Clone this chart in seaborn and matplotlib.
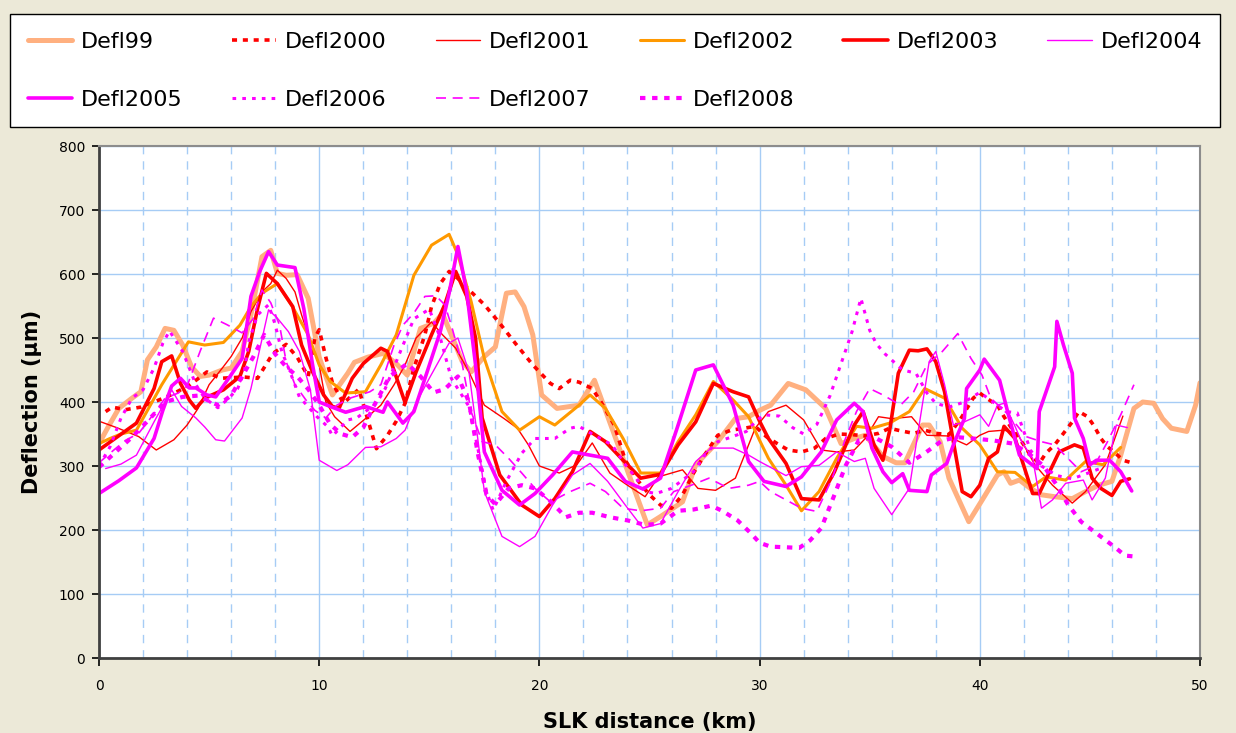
import matplotlib
matplotlib.use("Agg")
import matplotlib.pyplot as plt
import seaborn as sns
import pandas as pd

# ---------------- data (km, deflection in micrometres) ----------------
km_99 = [0.0, 0.4, 0.9, 1.5, 1.9, 2.2, 2.6, 3.0, 3.4, 3.8, 4.2, 4.6, 5.0, 5.6, 6.0, 6.5, 6.9, 7.4, 7.8, 8.1,
         8.5, 9.0, 9.5, 10.0, 10.6, 11.3, 11.6, 12.2, 12.9, 13.5, 14.0, 14.6, 15.2, 15.6, 16.0, 16.5, 16.9,
         17.5, 18.0, 18.2, 18.5, 18.9, 19.3, 19.7, 20.1, 20.8, 21.8, 22.5, 24.9, 25.5, 26.5, 27.1, 28.1,
         28.9, 29.5, 30.0, 30.5, 31.3, 32.1, 33.0, 33.7, 34.3, 34.8, 35.6, 36.2, 36.6, 37.4, 37.7, 38.2,
         38.6, 39.5, 40.2, 40.8, 41.1, 41.4, 41.8, 42.3, 42.8, 43.4, 44.2, 44.8, 45.4, 46.0, 46.4, 47.0,
         47.4, 47.9, 48.3, 48.7, 49.4, 49.8, 50.0]
defl_99 = [335, 360, 390, 406, 416, 466, 486, 515, 512, 489, 455, 440, 442, 450, 453, 479, 536, 627, 637, 601,
           598, 599, 562, 470, 411, 445, 462, 470, 476, 460, 442, 515, 523, 538, 505, 463, 447,
           471, 486, 520, 570, 572, 549, 505, 411, 390, 395, 434, 208, 221, 244, 302, 338,
           374, 377, 387, 395, 429, 419, 390, 335, 343, 348, 315, 305, 305, 364, 364, 338,
           281, 213, 252, 286, 291, 273, 278, 265, 255, 252, 249, 260, 270, 276, 317, 390,
           400, 398, 374, 359, 354, 395, 430]

km_2000 = [0.3, 0.6, 1.2, 1.9, 2.5, 3.2, 4.1, 4.9, 5.5, 6.0, 6.6, 7.2, 7.9, 8.5, 9.0, 9.5, 9.8, 10.0, 10.3,
           10.6, 11.1, 11.8, 12.4, 12.6, 13.1, 13.5, 13.9, 14.3, 14.8, 15.1, 15.5, 15.9, 16.3, 16.9, 17.5,
           18.2, 18.9, 19.7, 20.5, 20.9, 21.4, 21.8, 22.4, 22.8, 23.4, 23.9, 24.5, 25.0, 25.5, 26.0, 26.5,
           27.0, 27.5, 28.1, 28.7, 29.3, 29.8, 30.3, 30.8, 31.3, 31.9, 32.5, 33.0, 33.6, 34.2, 34.8, 35.4,
           35.9, 36.4, 37.0, 37.5, 38.0, 38.6, 39.1, 39.7, 40.0, 40.3, 40.8, 41.1, 41.5, 41.9, 42.3, 42.7,
           43.0, 43.4, 43.8, 44.2, 44.5, 44.9, 45.2, 45.5, 45.8, 46.1, 46.5, 46.8]
defl_2000 = [385, 392, 388, 392, 400, 410, 426, 447, 437, 438, 439, 437, 476, 490, 470, 440, 500, 513, 470,
             430, 398, 420, 350, 327, 348, 370, 398, 453, 505, 549, 585, 604, 593, 572, 552,
             523, 492, 458, 429, 421, 434, 431, 421, 400, 364, 309, 276, 255, 239, 234, 255,
             289, 317, 348, 356, 359, 362, 346, 335, 325, 322, 328, 343, 350, 349, 347, 351,
             359, 355, 351, 356, 351, 349, 372, 406, 414, 406, 395, 377, 356, 338, 317, 304,
             320, 333, 351, 369, 385, 377, 362, 343, 330, 322, 309, 306]

km_2001 = [0.0, 0.8, 1.8, 2.6, 3.4, 4.0, 4.5, 5.0, 5.6, 6.0, 6.5, 6.9, 7.4, 7.8, 8.1, 8.5, 8.9, 9.2, 9.6,
           10.0, 10.3, 10.7, 11.4, 12.1, 12.8, 13.4, 13.9, 14.4, 15.1, 15.6, 16.2, 16.8, 17.5, 18.4, 19.0,
           19.5, 20.0, 20.9, 21.7, 22.4, 23.2, 24.0, 24.8, 25.4, 26.5, 27.2, 28.0, 28.9, 29.8, 30.4, 31.2,
           32.0, 32.8, 33.5, 34.3, 34.8, 35.4, 36.0, 36.9, 37.6, 38.5, 39.4, 40.0, 40.4, 41.1, 41.7, 42.5,
           43.3, 44.2, 44.8, 45.7, 46.5]
defl_2001 = [370, 360, 346, 325, 341, 364, 390, 427, 453, 471, 500, 541, 572, 585, 606, 593, 572, 536, 494,
             458, 400, 377, 354, 374, 395, 427, 458, 500, 525, 505, 484, 447, 395, 374, 359,
             333, 300, 289, 302, 336, 289, 270, 252, 283, 294, 265, 262, 281, 359, 385, 395,
             372, 325, 322, 325, 343, 377, 374, 377, 348, 347, 333, 348, 354, 356, 351, 302,
             270, 242, 260, 302, 378]

km_2002 = [0.0, 0.5, 1.0, 1.7, 2.85, 4.06, 4.8, 5.65, 6.4, 6.9, 7.4, 8.1, 8.75, 9.5, 10.0, 10.5, 11.2,
           12.1, 12.8, 13.5, 14.3, 15.1, 15.9, 16.3, 16.9, 17.5, 18.3, 19.1, 20.0, 20.7, 21.8, 22.3, 23.0,
           23.8, 24.6, 25.5, 26.3, 27.1, 27.9, 28.8, 29.5, 30.0, 30.4, 31.2, 31.9, 32.7, 33.5, 34.4, 35.1,
           35.9, 36.8, 37.5, 38.4, 39.2, 40.0, 40.8, 41.6, 42.4, 43.0, 43.9, 44.8, 45.6, 46.4]
defl_2002 = [335, 343, 350, 356, 427, 494, 489, 493, 520, 549, 570, 585, 551, 505, 458, 432, 414,
             416, 458, 505, 598, 645, 662, 630, 557, 468, 385, 356, 377, 364, 395, 411, 390,
             343, 289, 289, 338, 380, 432, 403, 377, 340, 312, 270, 230, 260, 312, 362, 359,
             367, 385, 421, 406, 359, 333, 291, 290, 268, 283, 278, 307, 302, 329]

km_2003 = [0.0, 1.7, 2.5, 2.85, 3.3, 3.7, 4.1, 4.4, 4.8, 5.65, 6.4, 6.8, 7.2, 7.6, 8.1, 8.8, 9.2, 9.7,
           10.2, 10.6, 10.9, 11.5, 12.0, 12.8, 13.1, 13.9, 14.4, 15.1, 15.7, 16.2, 16.7, 17.1, 17.4, 18.2,
           19.2, 20.0, 20.7, 21.5, 22.3, 23.0, 23.8, 24.6, 25.5, 26.3, 27.1, 27.9, 28.8, 29.5, 30.0, 30.4,
           31.2, 31.9, 32.7, 33.4, 34.3, 34.7, 35.2, 35.6, 35.9, 36.3, 36.8, 37.2, 37.6, 38.0, 38.4, 38.8,
           39.2, 39.6, 40.0, 40.4, 40.8, 41.1, 41.6, 42.4, 42.7, 43.1, 43.6, 44.3, 44.7, 45.1, 45.5, 46.0,
           46.4, 46.8]
defl_2003 = [325, 367, 421, 463, 472, 429, 403, 390, 406, 419, 440, 479, 546, 601, 585, 549, 489, 447,
             411, 393, 390, 437, 460, 484, 479, 399, 447, 505, 552, 604, 565, 500, 375, 286,
             239, 221, 249, 291, 354, 338, 309, 281, 287, 333, 369, 429, 416, 408, 370, 343,
             304, 249, 247, 291, 364, 385, 333, 309, 354, 445, 481, 480, 483, 463, 416, 338,
             260, 252, 270, 312, 322, 362, 343, 257, 257, 286, 322, 333, 328, 281, 265, 254,
             276, 280]

km_2004 = [0.3, 1.0, 1.7, 2.5, 3.3, 3.75, 4.4, 4.8, 5.3, 5.7, 6.5, 6.9, 7.7, 8.1, 8.6, 9.1, 9.6, 10.0,
           10.8, 11.3, 12.1, 12.8, 13.5, 13.9, 14.4, 15.0, 15.5, 15.9, 16.3, 16.8, 17.2, 17.5, 18.3, 19.1,
           19.8, 20.6, 21.5, 22.3, 23.1, 23.9, 24.7, 25.5, 26.3, 27.1, 27.8, 28.8, 29.5, 30.0, 31.2, 31.9,
           32.7, 33.5, 34.3, 34.8, 35.2, 36.0, 36.8, 37.2, 37.7, 38.0, 38.4, 38.8, 39.3, 40.0, 40.4, 40.8,
           41.1, 41.6, 41.9, 42.4, 42.8, 43.3, 43.9, 44.7, 45.1, 45.7, 46.2, 46.7]
defl_2004 = [296, 303, 317, 369, 419, 393, 375, 361, 341, 339, 375, 421, 544, 531, 510, 479, 419, 309,
             293, 302, 329, 330, 343, 356, 398, 437, 468, 492, 500, 447, 343, 260, 190, 174,
             190, 239, 286, 304, 276, 239, 203, 210, 260, 307, 328, 328, 317, 307, 285, 299,
             301, 322, 307, 312, 265, 224, 265, 354, 463, 479, 427, 364, 369, 380, 362, 395,
             398, 362, 338, 312, 234, 247, 273, 278, 247, 281, 364, 360]

km_2005 = [0.0, 0.9, 1.7, 2.5, 2.9, 3.3, 3.7, 4.1, 4.4, 4.9, 5.3, 5.95, 6.5, 6.9, 7.3, 7.7, 8.1, 8.9, 9.3,
           9.7, 10.0, 10.5, 11.2, 12.1, 12.9, 13.1, 13.8, 14.3, 14.9, 15.5, 15.9, 16.3, 16.7, 17.1, 17.5,
           18.3, 19.1, 19.8, 20.6, 21.5, 22.3, 23.1, 23.9, 24.7, 25.5, 26.3, 27.1, 27.9, 28.8, 29.5, 30.2,
           31.2, 31.9, 32.8, 33.5, 34.3, 34.7, 35.1, 35.6, 36.0, 36.5, 36.8, 37.6, 37.8, 38.5, 38.8, 39.3,
           39.4, 40.0, 40.2, 40.9, 41.3, 41.8, 42.6, 42.7, 43.4, 43.5, 43.8, 44.2, 44.3, 44.7, 45.0, 45.3,
           45.9, 46.4, 46.9]
defl_2005 = [257, 277, 297, 343, 387, 425, 437, 422, 422, 411, 408, 440, 468, 565, 604, 635, 614, 610, 546,
             458, 400, 393, 384, 393, 384, 400, 367, 385, 447, 510, 570, 643, 572, 458, 322,
             262, 239, 257, 286, 322, 317, 312, 276, 264, 281, 364, 450, 458, 395, 307, 276,
             268, 283, 322, 372, 398, 385, 328, 291, 274, 288, 262, 260, 286, 304, 333, 374,
             421, 450, 467, 434, 380, 317, 296, 385, 455, 526, 489, 445, 375, 343, 302, 309,
             309, 291, 261]

km_2006 = [0.0, 0.5, 1.0, 1.5, 2.0, 2.5, 2.9, 3.2, 3.8, 4.4, 4.8, 5.4, 5.9, 6.3, 6.6, 6.8, 7.2, 7.7, 8.0,
           8.3, 8.7, 9.1, 9.9, 10.4, 10.6, 11.3, 11.7, 12.6, 13.0, 13.7, 14.3, 15.0, 15.5, 16.0, 16.8,
           17.2, 17.6, 17.9, 18.5, 19.2, 19.8, 20.7, 21.4, 21.8, 22.5, 23.3, 23.9, 24.4, 24.8, 25.3, 26.0,
           27.0, 27.5, 28.1, 28.7, 29.4, 29.8, 30.2, 30.9, 31.5, 32.0, 32.6, 33.2, 33.7, 34.2, 34.6, 35.0,
           35.3, 35.7, 36.5, 37.1, 37.6, 38.0, 38.6, 39.3, 40.0, 40.6, 41.2, 41.7, 42.3, 42.8, 43.5, 44.2,
           45.0, 45.6]
defl_2006 = [300, 330, 375, 406, 419, 453, 492, 511, 479, 427, 406, 391, 406, 421, 447, 494, 536, 552, 521,
             479, 445, 408, 377, 361, 347, 372, 375, 398, 421, 480, 530, 545, 500, 437, 393,
             328, 260, 231, 276, 320, 343, 343, 359, 362, 348, 333, 302, 281, 260, 257, 265,
             291, 317, 338, 345, 354, 369, 380, 378, 360, 350, 365, 410, 460, 510, 562, 512,
             491, 475, 450, 445, 414, 398, 392, 400, 415, 400, 385, 383, 325, 300, 285, 280,
             290, 298]

km_2007 = [0.0, 0.5, 1.2, 1.8, 2.5, 3.0, 3.6, 4.0, 4.6, 5.2, 5.8, 6.5, 7.0, 7.4, 7.8, 8.2, 8.5, 8.9, 9.4,
           9.8, 10.3, 10.8, 11.4, 12.3, 12.8, 13.4, 13.8, 14.3, 14.8, 15.3, 15.7, 16.0, 16.5, 16.9, 17.4,
           18.0, 18.6, 19.2, 19.8, 20.5, 21.4, 22.3, 23.0, 23.8, 24.6, 25.5, 26.1, 26.9, 27.7, 28.6, 29.5,
           30.0, 30.5, 31.2, 31.9, 32.6, 33.3, 33.9, 34.4, 35.0, 35.6, 36.4, 37.0, 37.6, 38.3, 39.0, 39.6,
           40.1, 40.5, 41.3, 42.1, 42.8, 43.4, 44.0, 44.6, 45.2, 45.8, 46.4, 47.0]
defl_2007 = [305, 320, 340, 351, 382, 406, 414, 425, 480, 531, 521, 508, 530, 575, 555, 520, 463, 427, 403,
             387, 375, 395, 406, 416, 427, 489, 520, 539, 565, 566, 552, 520, 458, 385, 338,
             333, 312, 289, 265, 244, 260, 273, 260, 234, 230, 234, 260, 270, 281, 265, 270,
             276, 260, 247, 234, 229, 281, 343, 385, 421, 411, 395, 416, 458, 479, 507, 468,
             442, 406, 380, 346, 338, 333, 312, 291, 300, 338, 380, 427]

km_2008 = [0.0, 0.7, 1.5, 2.2, 3.0, 3.8, 4.5, 5.4, 6.0, 6.5, 7.0, 7.5, 8.0, 8.5, 9.0, 9.5, 10.0, 10.5,
           11.0, 11.5, 12.0, 12.5, 13.2, 14.0, 14.6, 15.2, 15.7, 16.3, 16.8, 17.2, 17.6, 18.0, 18.6, 19.2,
           19.8, 20.5, 21.2, 21.8, 22.4, 23.2, 24.0, 24.8, 25.5, 26.3, 27.0, 27.8, 28.3, 29.0, 29.6, 30.0,
           30.5, 31.2, 31.8, 32.3, 32.8, 33.4, 33.9, 34.5, 35.2, 36.0, 36.8, 37.5, 38.3, 39.0, 40.0, 40.6,
           41.5, 42.2, 42.9, 43.5, 44.0, 44.6, 45.1, 45.6, 46.1, 46.6, 47.2]
defl_2008 = [298, 320, 345, 370, 400, 408, 410, 395, 410, 440, 470, 505, 475, 455, 440, 420, 395, 365,
             350, 345, 360, 395, 440, 460, 440, 415, 420, 440, 400, 320, 255, 240, 265, 270,
             265, 245, 220, 227, 227, 220, 215, 208, 210, 230, 232, 238, 230, 215, 195, 180,
             174, 173, 172, 184, 203, 255, 300, 340, 345, 330, 305, 320, 340, 345, 342, 340,
             335, 320, 300, 270, 240, 213, 200, 187, 174, 160, 158]

series_names = ["Defl99", "Defl2000", "Defl2001", "Defl2002", "Defl2003",
                "Defl2004", "Defl2005", "Defl2006", "Defl2007", "Defl2008"]
series_km = [km_99, km_2000, km_2001, km_2002, km_2003, km_2004, km_2005, km_2006, km_2007, km_2008]
series_val = [defl_99, defl_2000, defl_2001, defl_2002, defl_2003,
              defl_2004, defl_2005, defl_2006, defl_2007, defl_2008]

x_ticks = [0, 10, 20, 30, 40, 50]
y_ticks = [0, 100, 200, 300, 400, 500, 600, 700, 800]

# ---------------- styles ----------------
styles = {
    "Defl99":   dict(color="#FFB080", lw=3.6, ls="-"),
    "Defl2000": dict(color="#FF0000", lw=2.6, ls=(0, (1.4, 1.6))),
    "Defl2001": dict(color="#FF0000", lw=1.0, ls="-"),
    "Defl2002": dict(color="#FF9900", lw=2.2, ls="-"),
    "Defl2003": dict(color="#FF0000", lw=2.6, ls="-"),
    "Defl2004": dict(color="#FF00FF", lw=1.0, ls="-"),
    "Defl2005": dict(color="#FF00FF", lw=2.6, ls="-"),
    "Defl2006": dict(color="#FF00FF", lw=2.2, ls=(0, (1.2, 2.0))),
    "Defl2007": dict(color="#FF00FF", lw=1.2, ls=(0, (6, 4))),
    "Defl2008": dict(color="#FF00FF", lw=3.0, ls=(0, (1.3, 1.6))),
}

sns.set_theme(style="white")
plt.rcParams["font.family"] = ["DejaVu Sans"]

BG = "#ECE9D8"
W, H = 1236, 733
fig = plt.figure(figsize=(W / 100, H / 100), dpi=100, facecolor=BG)
ax = fig.add_axes([99 / W, 75 / H, 1101 / W, 512 / H], facecolor="white")

handle_map = {}
for name, xs, ys in zip(series_names, series_km, series_val):
    df = pd.DataFrame({"km": xs, "defl": ys})
    st = styles[name]
    sns.lineplot(data=df, x="km", y="defl", ax=ax, color=st["color"], linewidth=st["lw"],
                 linestyle=st["ls"], estimator=None, sort=False, label=name, legend=False)
    handle_map[name] = ax.lines[-1]

ax.set_xlim(0, 50)
ax.set_ylim(0, 800)
ax.set_xticks(x_ticks)
ax.set_yticks(y_ticks)
ax.set_xticks([k for k in range(2, 50, 2) if k % 10 != 0], minor=True)

grid_c = "#A6CCF5"
ax.grid(False)
ax.yaxis.grid(True, which="major", color=grid_c, lw=1.0)
ax.xaxis.grid(True, which="major", color=grid_c, lw=1.0)
ax.xaxis.grid(True, which="minor", color=grid_c, lw=1.0, ls=(0, (6, 5)))
ax.set_axisbelow(True)

ax.tick_params(axis="y", which="major", left=True, direction="out", length=5, width=1.2,
               color="black", labelsize=10, pad=5, labelcolor="black")
ax.tick_params(axis="x", which="major", bottom=True, direction="out", length=6, width=1.2,
               color="black", labelsize=10, pad=9, labelcolor="black")
ax.tick_params(axis="x", which="minor", length=0)

for side in ["left", "bottom"]:
    ax.spines[side].set_color("#404040")
    ax.spines[side].set_linewidth(2.0)
for side in ["top", "right"]:
    ax.spines[side].set_color("#8C8C8C")
    ax.spines[side].set_linewidth(1.5)

ax.set_xlabel("SLK distance (km)", fontsize=15, fontweight="bold", labelpad=14, color="black")
ax.set_ylabel("Deflection (µm)", fontsize=15, fontweight="bold", labelpad=12, color="black")

# legend filled row by row (matplotlib fills columns first, so reorder)
legend_order = ["Defl99", "Defl2005", "Defl2000", "Defl2006", "Defl2001", "Defl2007",
                "Defl2002", "Defl2008", "Defl2003", "Defl2004"]
leg = fig.legend([handle_map[n] for n in legend_order], legend_order, ncol=6, mode="expand",
                 bbox_to_anchor=(10 / W, (H - 126) / H, 1210 / W, 112 / H), loc="upper left",
                 borderaxespad=0, frameon=True, fancybox=False, fontsize=16,
                 handlelength=2.0, handletextpad=0.4, labelspacing=1.7, borderpad=0.8,
                 columnspacing=1.0, facecolor="white", edgecolor="black", framealpha=1)
leg.get_frame().set_linewidth(1.0)
for t in leg.get_texts():
    t.set_color("black")

fig.savefig("out.png", dpi=100, facecolor=BG)
